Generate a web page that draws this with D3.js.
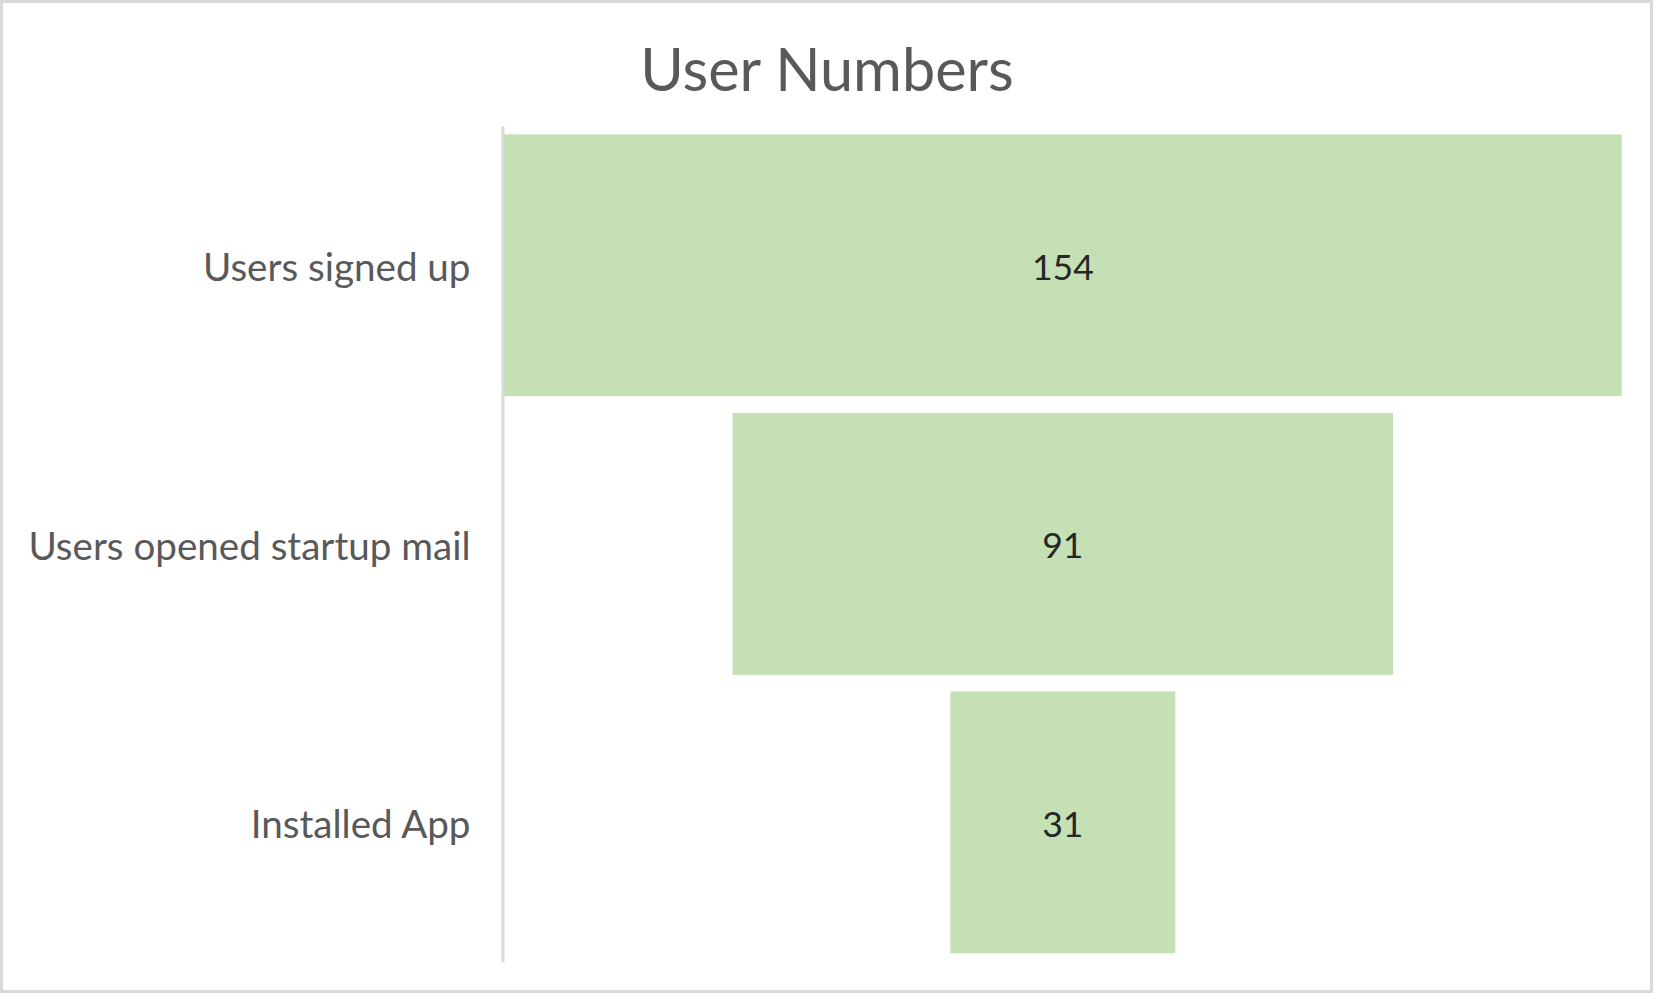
<!DOCTYPE html>
<html>
<head>
<meta charset="utf-8">
<script src="https://cdn.jsdelivr.net/npm/d3@7"></script>
<style>
  html, body { margin: 0; padding: 0; background: #fff; }
  svg { display: block; }
</style>
</head>
<body>
<svg id="chart" width="1659" height="999"></svg>
<script>
const title = "User Numbers";
const categories = ["Users signed up", "Users opened startup mail", "Installed App"];
const values = [154, 91, 31];

const W = 1659, H = 999;
const svg = d3.select("#chart");
const font = "Lato, 'Open Sans', sans-serif";

// outer border
svg.append("rect")
  .attr("x", 1.5).attr("y", 1.5)
  .attr("width", 1650).attr("height", 990)
  .attr("fill", "#fff")
  .attr("stroke", "#d9d9d9").attr("stroke-width", 3);

const axisX = 502.5;
const y = d3.scaleBand()
  .domain(categories)
  .range([126, 961.7])
  .paddingInner(0.06)
  .paddingOuter(0.03);

const maxV = d3.max(values);
const x = d3.scaleLinear().domain([-maxV, maxV]).range([504, 1621.7]);

const data = categories.map((c, i) => ({ c, v: values[i] }));

// bars
svg.append("g").selectAll("rect")
  .data(data)
  .join("rect")
  .attr("x", d => x(-d.v))
  .attr("width", d => x(d.v) - x(-d.v))
  .attr("y", d => y(d.c))
  .attr("height", y.bandwidth())
  .attr("fill", "#c5e0b4");

// value labels
svg.append("g").selectAll("text")
  .data(data)
  .join("text")
  .attr("x", d => x(0))
  .attr("y", d => y(d.c) + y.bandwidth() / 2)
  .attr("dy", "0.41em")
  .attr("text-anchor", "middle")
  .attr("font-family", font)
  .attr("font-size", 35.5)
  .attr("fill", "#262626")
  .text(d => d.v);

// axis
const axis = svg.append("g")
  .attr("transform", `translate(${axisX},0)`)
  .call(d3.axisLeft(y).tickSize(0).tickPadding(32));
axis.select(".domain").attr("stroke", "#d9d9d9").attr("stroke-width", 3);
axis.selectAll(".tick text")
  .attr("font-family", font)
  .attr("font-size", 38.6)
  .attr("fill", "#595959")
  .attr("dy", "0.41em");

// title
svg.append("text")
  .attr("x", 827)
  .attr("y", 90.5)
  .attr("text-anchor", "middle")
  .attr("font-family", font)
  .attr("font-size", 59.4)
  .attr("fill", "#595959")
  .text(title);
</script>
</body>
</html>
